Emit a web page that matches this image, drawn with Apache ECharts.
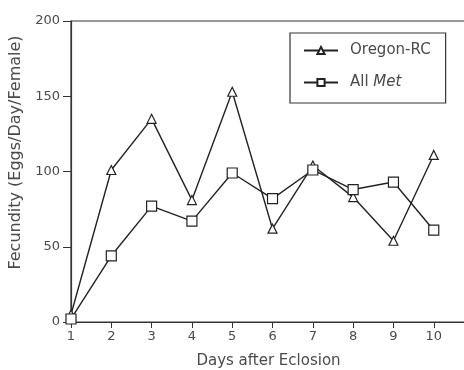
<!DOCTYPE html>
<html>
<head>
<meta charset="utf-8">
<script src="https://cdn.jsdelivr.net/npm/echarts@6/dist/echarts.min.js"></script>
<style>
  html, body { margin: 0; padding: 0; background: #fff; }
  #chart { width: 464px; height: 370px; }
</style>
</head>
<body>
<div id="chart"></div>
<script>
const days = [1, 2, 3, 4, 5, 6, 7, 8, 9, 10];
const oregonRC = [5, 101, 135, 81, 153, 62, 104, 83, 54, 111];
const allMet = [2, 44, 77, 67, 99, 82, 101, 88, 93, 61];
const yTicks = [0, 50, 100, 150, 200];

const ink = '#222';
const textGray = '#4a4a4a';
const font = 'DejaVu Sans';

const chart = echarts.init(document.getElementById('chart'));

function lineSeries(name, values, symbol, size) {
    return {
        name: name,
        type: 'line',
        data: values.map((v, i) => [days[i], v]),
        symbol: symbol,
        symbolSize: size,
        showAllSymbol: true,
        lineStyle: { color: ink, width: 1.4 },
        itemStyle: { color: '#fff', borderColor: ink, borderWidth: 1.2 },
        emphasis: { disabled: true },
        z: 3
    };
}

chart.setOption({
    animation: false,
    backgroundColor: '#fff',
    grid: {
        left: 71, top: 21, width: 395, bottom: 48,
        outerBoundsMode: 'none',
        containLabel: false,
        show: true, borderColor: '#333', borderWidth: 1.2,
        backgroundColor: 'transparent'
    },
    legend: {
        left: 290, top: 33,
        orient: 'vertical',
        padding: [10, 15, 13, 13],
        itemWidth: 34, itemHeight: 9, itemGap: 17,
        borderColor: '#333', borderWidth: 1.2,
        backgroundColor: '#fff',
        data: ['Oregon-RC', 'All Met'],
        formatter: name => name === 'All Met' ? 'All {i|Met}' : name,
        textStyle: {
            color: textGray, fontFamily: font, fontSize: 15,
            padding: [0, 0, 0, 7],
            rich: { i: { fontStyle: 'italic', fontFamily: font, fontSize: 15, color: textGray } }
        }
    },
    xAxis: {
        type: 'value',
        min: 1, max: 10.8,
        name: 'Days after Eclosion',
        nameLocation: 'middle',
        nameGap: 32,
        nameTextStyle: { color: textGray, fontFamily: font, fontSize: 15 },
        axisLine: { show: true, onZero: false, lineStyle: { color: '#333', width: 1.2 } },
        axisTick: { show: true, length: 6, customValues: days, lineStyle: { color: '#333' } },
        axisLabel: { customValues: days, color: textGray, fontFamily: font, fontSize: 13, margin: 8 },
        splitLine: { show: false }
    },
    yAxis: {
        type: 'value',
        min: 0, max: 200, interval: 50,
        name: 'Fecundity (Eggs/Day/Female)',
        nameLocation: 'middle',
        nameGap: 41,
        nameTextStyle: { color: textGray, fontFamily: font, fontSize: 16, padding: [0, 0, 0, 38] },
        axisLine: { show: true, lineStyle: { color: '#333', width: 1.2 } },
        axisTick: { show: true, inside: false, length: 8, customValues: yTicks, lineStyle: { color: '#333' } },
        axisLabel: { customValues: yTicks, color: textGray, fontFamily: font, fontSize: 13, margin: 11 },
        splitLine: { show: false }
    },
    series: [
        lineSeries('Oregon-RC', oregonRC, 'triangle', 9),
        lineSeries('All Met', allMet, 'rect', 10)
    ]
});
</script>
</body>
</html>
